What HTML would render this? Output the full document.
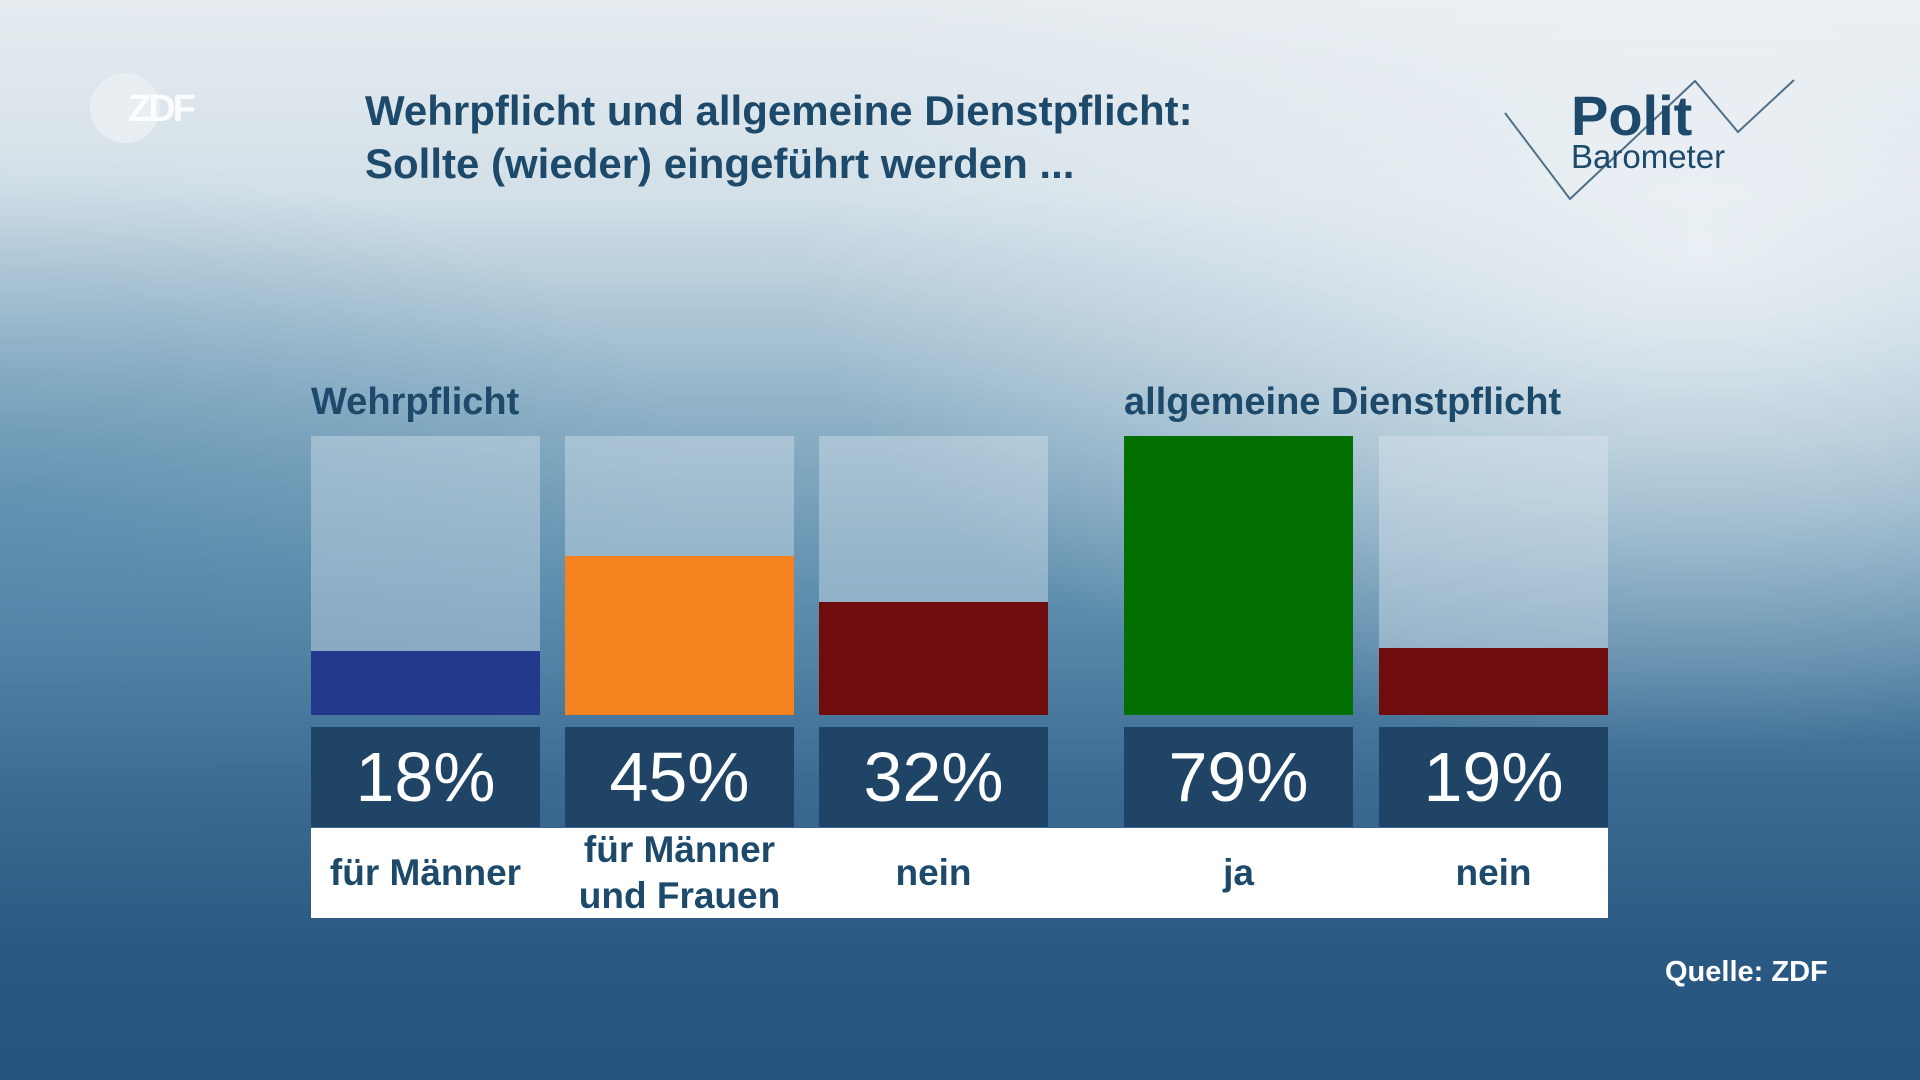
<!DOCTYPE html>
<html><head><meta charset="utf-8"><style>
*{margin:0;padding:0;box-sizing:border-box}
body{width:1920px;height:1080px;overflow:hidden;position:relative;font-family:"Liberation Sans",sans-serif;
background:linear-gradient(180deg,#e6ecf0 0%,#d3e0e8 18%,#8fb2c7 38%,#5f8fae 55%,#3c6c93 72%,#2a5a83 88%,#245380 100%);}
.ov{position:absolute;inset:0;background:radial-gradient(ellipse 900px 500px at 1700px 250px,rgba(240,244,247,0.85),rgba(240,244,247,0) 100%),radial-gradient(ellipse 700px 350px at 0px 500px,rgba(60,120,160,0.35),rgba(60,120,160,0));}
.a{position:absolute}
.title{left:365px;top:84px;color:#1d4a6b;font-weight:bold;font-size:42px;line-height:53px}
.h{color:#1d4a6b;font-weight:bold;font-size:38px;top:381px}
.bg{top:436px;height:279px;width:229px;background:rgba(225,235,242,0.38)}
.f{width:229px}
.v{top:727px;height:100px;width:229px;background:#1f4466;color:#fff;font-size:70px;text-align:center;line-height:100px}
.white{left:311px;top:828px;width:1297px;height:90px;background:#fff}
.l{top:828px;height:90px;width:229px;color:#1d4a6b;font-weight:bold;font-size:37px;display:flex;align-items:center;justify-content:center;text-align:center;line-height:46px}
</style></head><body><div class="ov"></div>
<div class="a" style="left:90px;top:73px;width:70px;height:70px;border-radius:50%;background:rgba(235,240,244,0.8)"></div>
<div class="a" style="left:128px;top:88px;color:#fff;font-weight:bold;font-size:38px;letter-spacing:-3px;opacity:.9">ZDF</div>
<div class="a title">Wehrpflicht und allgemeine Dienstpflicht:<br>Sollte (wieder) eingeführt werden ...</div>
<svg class="a" style="left:1495px;top:75px" width="305" height="130"><polyline points="10,38 75,124 200,6 243,57 299,5" fill="none" stroke="#4f6f89" stroke-width="2"/></svg>
<div class="a" style="left:1571px;top:84px;color:#1d4a6b;font-weight:bold;font-size:56px;line-height:64px">Polit</div>
<div class="a" style="left:1571px;top:138px;color:#1d4a6b;font-size:33px">Barometer</div>
<div class="a h" style="left:311px">Wehrpflicht</div>
<div class="a h" style="left:1124px">allgemeine Dienstpflicht</div>
<div class="a bg" style="left:311px"></div><div class="a bg" style="left:565px"></div><div class="a bg" style="left:819px"></div><div class="a bg" style="left:1124px"></div><div class="a bg" style="left:1379px"></div>
<div class="a f" style="left:311px;top:651px;height:64px;background:#233a8c"></div>
<div class="a f" style="left:565px;top:556px;height:159px;background:#f6821f"></div>
<div class="a f" style="left:819px;top:602px;height:113px;background:#6f0d0e"></div>
<div class="a f" style="left:1124px;top:436px;height:279px;background:#027000"></div>
<div class="a f" style="left:1379px;top:648px;height:67px;background:#6f0d0e"></div>
<div class="a v" style="left:311px">18%</div><div class="a v" style="left:565px">45%</div><div class="a v" style="left:819px">32%</div><div class="a v" style="left:1124px">79%</div><div class="a v" style="left:1379px">19%</div>
<div class="a white"></div>
<div class="a l" style="left:311px">für Männer</div>
<div class="a l" style="left:565px">für Männer<br>und Frauen</div>
<div class="a l" style="left:819px">nein</div>
<div class="a l" style="left:1124px">ja</div>
<div class="a l" style="left:1379px">nein</div>
<div class="a" style="left:1665px;top:956px;color:#fff;font-weight:bold;font-size:29px">Quelle: ZDF</div>
</body></html>
